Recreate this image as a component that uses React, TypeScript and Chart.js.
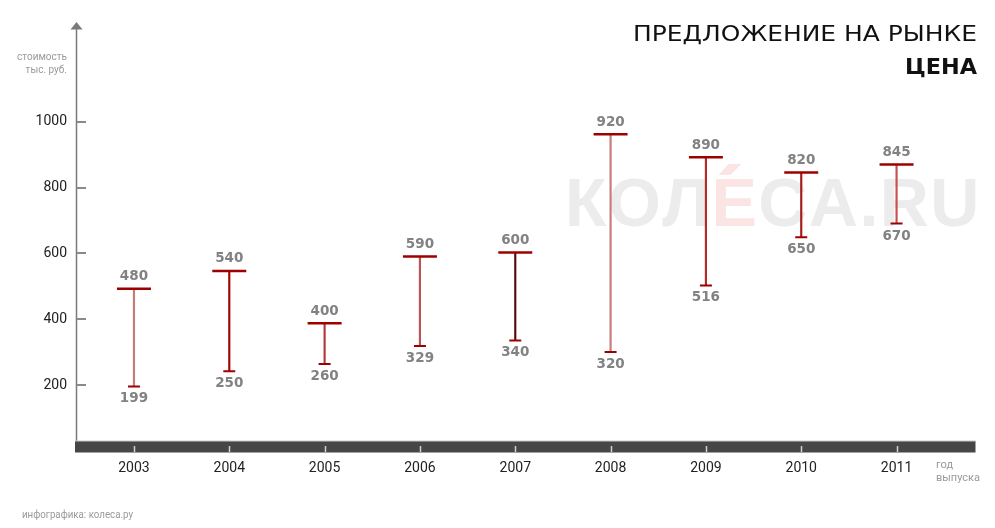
import React, { useEffect, useRef } from "react";
import { Chart, registerables } from "chart.js";

Chart.register(...registerables);

// Categories (model years)
const years = ["2003", "2004", "2005", "2006", "2007", "2008", "2009", "2010", "2011"];
// Range positions as drawn in the picture (thousand roubles)
const highValues = [493, 547, 388, 591, 603, 962, 892, 846, 870];
const lowValues = [196, 242, 264, 319, 336, 301, 503, 649, 691];
// Printed labels
const highLabels = ["480", "540", "400", "590", "600", "920", "890", "820", "845"];
const lowLabels = ["199", "250", "260", "329", "340", "320", "516", "650", "670"];
// Y axis ticks
const yTicks = [200, 400, 600, 800, 1000];

const stemColors = ["#c97a7a", "#a30000", "#b03a3a", "#bb5555", "#5a0a0a", "#c97a7a", "#b22a2a", "#a81a1a", "#c45050"];
const capColor = "#9e0000";

function fitText(ctx: any, text: string, x: number, y: number, width: number) {
  const w = ctx.measureText(text).width;
  ctx.save();
  ctx.translate(x, y);
  ctx.scale(width / w, 1);
  ctx.textAlign = "left";
  ctx.fillText(text, 0, 0);
  ctx.restore();
}

const decorPlugin = {
  id: "decor",
  beforeDatasetsDraw(chart: any) {
    const ctx = chart.ctx;
    // watermark
    ctx.save();
    ctx.font = "bold 68px 'Liberation Sans', Arial, sans-serif";
    ctx.textBaseline = "alphabetic";
    ctx.textAlign = "left";
    const parts: [string, string][] = [["КОЛ", "#ececec"], ["Е", "#fbe4e4"], ["СА.RU", "#ececec"]];
    const full = parts.map((p) => p[0]).join("");
    const natural = ctx.measureText(full).width;
    const sp = (411 - natural) / (full.length - 1);
    let x = 565;
    const y = 226;
    parts.forEach(([t, c], i) => {
      ctx.fillStyle = c;
      for (const ch of t) {
        ctx.fillText(ch, x, y);
        if (i === 1) {
          ctx.beginPath();
          ctx.moveTo(x + 17, 164);
          ctx.lineTo(x + 30, 164);
          ctx.lineTo(x + 19, 175);
          ctx.lineTo(x + 7, 175);
          ctx.closePath();
          ctx.fill();
        }
        x += ctx.measureText(ch).width + sp;
      }
    });
    ctx.restore();
  },
  afterDraw(chart: any) {
    const ctx = chart.ctx;
    const xs = chart.scales.x;
    const ys = chart.scales.y;
    const area = chart.chartArea;
    ctx.save();
    // y axis line
    ctx.strokeStyle = "#7a7a7a";
    ctx.lineWidth = 1.5;
    ctx.beginPath();
    ctx.moveTo(76.5, 28);
    ctx.lineTo(76.5, 442);
    ctx.stroke();
    // arrow
    ctx.fillStyle = "#7a7a7a";
    ctx.beginPath();
    ctx.moveTo(76.5, 22);
    ctx.lineTo(82.5, 29.5);
    ctx.lineTo(70.5, 29.5);
    ctx.closePath();
    ctx.fill();
    // y tick marks
    ctx.strokeStyle = "#8a8a8a";
    ctx.lineWidth = 2;
    yTicks.forEach((v) => {
      const py = Math.round(ys.getPixelForValue(v));
      ctx.beginPath();
      ctx.moveTo(77, py);
      ctx.lineTo(86, py);
      ctx.stroke();
    });
    // x axis bar
    ctx.fillStyle = "#464646";
    ctx.fillRect(75, 441, area.right - 75, 11.5);
    ctx.fillStyle = "#c8c8c8";
    ctx.fillRect(75, 440.5, area.right - 75, 1);
    ctx.strokeStyle = "#d0d0d0";
    ctx.lineWidth = 1.5;
    years.forEach((_, i) => {
      const px = Math.round(xs.getPixelForValue(i)) + 0.5;
      ctx.beginPath();
      ctx.moveTo(px, 446);
      ctx.lineTo(px, 452);
      ctx.stroke();
    });
    // value labels
    ctx.fillStyle = "#828282";
    ctx.font = "bold 13.5px 'DejaVu Sans', sans-serif";
    ctx.textAlign = "center";
    ctx.textBaseline = "middle";
    years.forEach((_, i) => {
      const px = xs.getPixelForValue(i);
      ctx.fillText(highLabels[i], px, ys.getPixelForValue(highValues[i]) - 12);
      ctx.fillText(lowLabels[i], px, ys.getPixelForValue(lowValues[i]) + 12.5);
    });
    // title
    ctx.fillStyle = "#111";
    ctx.textBaseline = "alphabetic";
    ctx.font = "400 22px 'DejaVu Sans', sans-serif";
    fitText(ctx, "ПРЕДЛОЖЕНИЕ НА РЫНКЕ", 633, 41, 344);
    ctx.font = "bold 22px 'DejaVu Sans', sans-serif";
    fitText(ctx, "ЦЕНА", 905, 74, 72);
    // axis titles
    ctx.fillStyle = "#9a9a9a";
    ctx.font = "10px Roboto, sans-serif";
    ctx.textAlign = "right";
    ctx.textBaseline = "middle";
    ctx.fillText("стоимость", 67, 57);
    ctx.fillText("тыс. руб.", 67, 70);
    ctx.textAlign = "left";
    ctx.font = "11px Roboto, sans-serif";
    ctx.fillText("год", 936, 465);
    ctx.fillText("выпуска", 936, 478);
    ctx.fillStyle = "#9a9a9a";
    ctx.font = "10px Roboto, sans-serif";
    fitText(ctx, "инфографика: колеса.ру", 22, 515, 111);
    ctx.restore();
  },
};

export default function App() {
  const ref = useRef<HTMLCanvasElement | null>(null);
  useEffect(() => {
    document.body.style.margin = "0";
    const canvas = ref.current;
    if (!canvas) return;
    const chart = new Chart(canvas, {
      type: "bar",
      data: {
        datasets: [
          {
            type: "bar",
            data: years.map((_, i) => ({ x: i, y: [lowValues[i], highValues[i]] })) as any,
            backgroundColor: stemColors,
            borderWidth: 0,
            barThickness: 1.5,
            order: 2,
          } as any,
          {
            type: "line",
            data: years.map((_, i) => ({ x: i, y: highValues[i] })),
            showLine: false,
            pointStyle: "line",
            pointRadius: 17,
            pointHoverRadius: 17,
            pointBorderWidth: 2.5,
            borderColor: capColor,
            pointBorderColor: capColor,
            order: 1,
          } as any,
          {
            type: "line",
            data: years.map((_, i) => ({ x: i, y: lowValues[i] })),
            showLine: false,
            pointStyle: "line",
            pointRadius: 6,
            pointHoverRadius: 6,
            pointBorderWidth: 2,
            borderColor: capColor,
            pointBorderColor: capColor,
            order: 1,
          } as any,
        ],
      },
      options: {
        animation: false,
        responsive: false,
        events: [],
        layout: { padding: { left: 0, right: 19, top: 23, bottom: 0 } },
        plugins: { legend: { display: false }, tooltip: { enabled: false }, title: { display: false } },
        scales: {
          x: {
            type: "linear",
            offset: false,
            min: -0.608,
            max: 8.828,
            afterBuildTicks: (s: any) => {
              s.ticks = years.map((_, i) => ({ value: i }));
            },
            afterFit: (s: any) => {
              s.height = 77;
            },
            grid: { display: false, drawTicks: false, offset: false },
            border: { display: false },
            ticks: {
              padding: 9,
              color: "#222",
              font: { family: "Roboto", size: 14 },
              maxRotation: 0,
              autoSkip: false,
              callback: (v: any) => years[Math.round(v)] ?? "",
            },
          },
          y: {
            type: "linear",
            min: 0,
            max: 1300,
            afterBuildTicks: (s: any) => {
              s.ticks = yTicks.map((v) => ({ value: v }));
            },
            afterFit: (s: any) => {
              s.width = 76;
            },
            grid: { display: false, drawTicks: false },
            border: { display: false },
            ticks: {
              padding: 9,
              color: "#222",
              font: { family: "Roboto", size: 14 },
              callback: (v: any) => String(v),
            },
          },
        },
      } as any,
      plugins: [decorPlugin],
    });
    return () => chart.destroy();
  }, []);
  return (
    <div style={{ position: "fixed", left: 0, top: 0, width: 995, height: 528, background: "#fff" }}>
      <canvas ref={ref} width={995} height={528} style={{ width: 995, height: 528, display: "block" }} />
    </div>
  );
}
